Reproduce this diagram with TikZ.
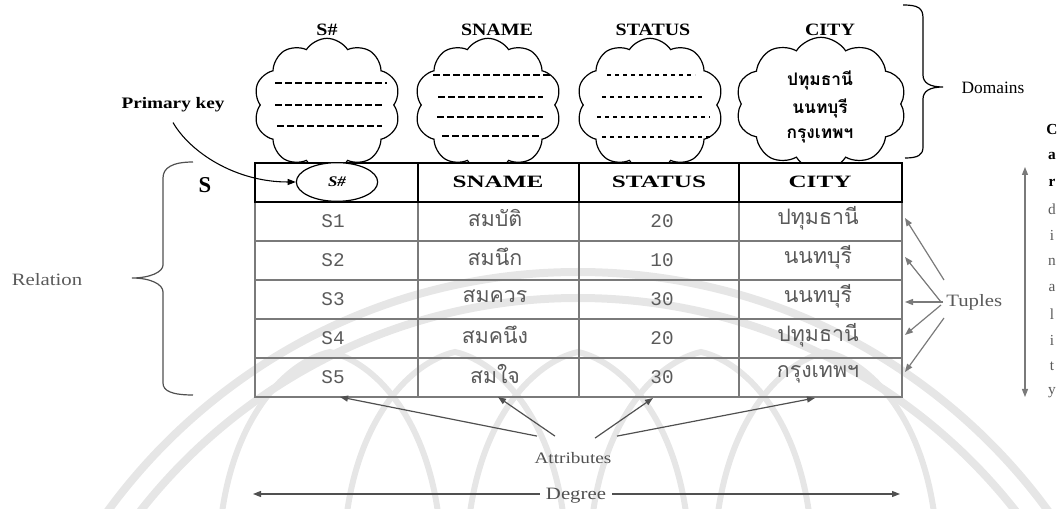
\documentclass[tikz,border=0pt]{standalone}
\usepackage{fontspec}
\setmainfont{Liberation Serif}
\newfontfamily\widefont[FakeStretch=1.2]{Liberation Serif}
\newfontfamily\hdrfont[FakeStretch=1.45]{Liberation Serif}
\newfontfamily\topfont[FakeStretch=1.15]{Liberation Serif}
\newfontfamily\cellmono{Liberation Mono}
\newfontfamily\thaifont[Script=Thai]{Loma}
\usetikzlibrary{shapes.symbols,shapes.geometric,arrows.meta,calc}

\definecolor{inkgray}{HTML}{505050}
\definecolor{softgray}{HTML}{5A5A5A}
\definecolor{linegray}{HTML}{7A7A7A}
\definecolor{markgray}{HTML}{E6E6E6}

\tikzset{
  cloudbox/.style={cloud, draw, line width=0.9pt, cloud puffs=10, cloud puff arc=115,
    cloud ignores aspect, inner sep=0pt, minimum width=110pt, minimum height=100pt},
  dashrule/.style={line width=0.9pt, dash pattern=on 5pt off 2.5pt},
  sparse/.style={line width=0.8pt, dash pattern=on 3pt off 3pt},
  toplabel/.style={font=\topfont\bfseries\fontsize{13}{15}\selectfont, inner sep=0pt},
  hdrtext/.style={font=\hdrfont\bfseries\fontsize{13}{15}\selectfont, inner sep=0pt},
  celltext/.style={font=\cellmono\fontsize{14.5}{16}\selectfont, text=softgray, inner sep=0pt},
  thaicell/.style={font=\thaifont\fontsize{16}{18}\selectfont, text=softgray, inner sep=0pt},
  thaicloud/.style={font=\thaifont\bfseries\fontsize{13}{15}\selectfont, inner sep=0pt},
  note/.style={font=\widefont\fontsize{13}{15}\selectfont, inner sep=0pt},
  hdrline/.style={line width=1.1pt, black},
  bodyline/.style={line width=0.8pt, linegray},
  tip/.style={-{Triangle[length=6pt,width=4.5pt]}},
  brace/.style={line width=0.9pt},
  emblem/.style={markgray, line width=6pt}
}

\begin{document}
\begin{tikzpicture}[x=0.75pt,y=-0.75pt]
\useasboundingbox (0,0) rectangle (1061,509);

% ---- faint emblem in the background
\begin{scope}
  \clip (0,215) rectangle (1061,509);
  \draw[emblem] (578,854) circle[radius=582];
  \draw[emblem] (578,854) circle[radius=556];
  \foreach \px in {330,455,578,701,826}
    \draw[emblem, line width=4.5pt] (\px-110,530) .. controls (\px-100,420) and (\px-45,362) .. (\px,352)
      .. controls (\px+45,362) and (\px+100,420) .. (\px+110,530);
\end{scope}

% ---- domain clouds and their titles
\node[toplabel] (tS)  at (327,30) {S\#};
\node[toplabel] (tN)  at (497,30) {SNAME};
\node[toplabel] (tT)  at (653,30) {STATUS};
\node[toplabel] (tC)  at (830,30) {CITY};

\node[cloudbox] (cS) at (327,105) {};
\node[cloudbox] (cN) at (488,105) {};
\node[cloudbox] (cT) at (650,105) {};
\node[cloudbox, minimum width=128pt, minimum height=100pt] (cC) at (821,104) {};

\draw[dashrule] (275,83) -- (387,83);
\draw[dashrule] (275,105) -- (382,105);
\draw[dashrule] (277,126) -- (382,126);

\draw[dashrule] (433,75) -- (550,75);
\draw[dashrule] (438,97) -- (543,97);
\draw[dashrule] (437,117) -- (543,117);
\draw[dashrule] (442,136) -- (540,136);

\draw[sparse] (607,75) -- (695,75);
\draw[sparse] (602,97) -- (703,97);
\draw[sparse] (597,117) -- (710,117);
\draw[sparse] (602,137) -- (710,137);

\node[thaicloud] (d1) at (820,80) {ปทุมธานี};
\node[thaicloud] (d2) at (820,108) {นนทบุรี};
\node[thaicloud] (d3) at (820,136) {กรุงเทพฯ};

% ---- Domains brace
\draw[brace] (903,5) .. controls (918,5) and (923,8) .. (923,18) -- (923,75)
  .. controls (923,83) and (930,87) .. (943,87)
  .. controls (930,87) and (923,91) .. (923,99) -- (923,147)
  .. controls (923,155) and (918,158) .. (905,158);
\node[font=\fontsize{13}{15}\selectfont, inner sep=0pt] (dom) at (993,88) {Domains};

% ---- the relation table
\draw[bodyline] (255,202) rectangle (902,397);
\foreach \yy in {241,280,319,358} \draw[bodyline] (255,\yy) -- (902,\yy);
\foreach \xx in {418,579,739} \draw[bodyline] (\xx,202) -- (\xx,397);
\draw[hdrline, fill=white] (255,163) rectangle (902,202);
\foreach \xx in {418,579,739} \draw[hdrline] (\xx,163) -- (\xx,202);

\node[draw, ellipse, line width=0.9pt, minimum width=61pt, minimum height=29pt, inner sep=0pt,
  fill=white, font=\topfont\bfseries\itshape\fontsize{11}{13}\selectfont] (key) at (337,182) {S\#};
\node[hdrtext] (hN) at (498,182) {SNAME};
\node[hdrtext] (hT) at (659,182) {STATUS};
\node[hdrtext] (hC) at (820,182) {CITY};

\node[celltext] (a1) at (333,221) {S1};
\node[celltext] (a2) at (333,260) {S2};
\node[celltext] (a3) at (333,299) {S3};
\node[celltext] (a4) at (333,338) {S4};
\node[celltext] (a5) at (333,377) {S5};

\node[thaicell] (b1) at (495,218) {สมบัติ};
\node[thaicell] (b2) at (495,257) {สมนึก};
\node[thaicell] (b3) at (495,296) {สมควร};
\node[thaicell] (b4) at (495,335) {สมคนึง};
\node[thaicell] (b5) at (495,374) {สมใจ};

\node[celltext] (s1) at (662,221) {20};
\node[celltext] (s2) at (662,260) {10};
\node[celltext] (s3) at (662,299) {30};
\node[celltext] (s4) at (662,338) {20};
\node[celltext] (s5) at (662,377) {30};

\node[thaicell] (c1) at (818,218) {ปทุมธานี};
\node[thaicell] (c2) at (818,257) {นนทบุรี};
\node[thaicell] (c3) at (818,296) {นนทบุรี};
\node[thaicell] (c4) at (818,335) {ปทุมธานี};
\node[thaicell] (c5) at (818,374) {กรุงเทพฯ};

\node[font=\bfseries\fontsize{17}{19}\selectfont, inner sep=0pt] (rel) at (205,185) {S};

% ---- primary key pointer
\node[note, font=\widefont\bfseries\fontsize{12}{14}\selectfont] (pk) at (173,105) {Primary key};
\draw[line width=0.8pt, tip] ($(pk.south)+(0,10)$) .. controls (190,152) and (235,182) .. (key.west);

% ---- Relation brace
\draw[brace, inkgray] (193,162) .. controls (172,162) and (163,168) .. (163,178) -- (163,265)
  .. controls (163,272) and (150,278) .. (132,278)
  .. controls (150,278) and (163,284) .. (163,292) -- (163,383)
  .. controls (163,391) and (172,395) .. (193,395);
\node[note, text=softgray] (relname) at (47,280) {Relation};

% ---- Tuples
\node[note, text=softgray, anchor=west] (tup) at (946,302) {Tuples};
\coordinate (r1) at (905,218);
\coordinate (r2) at (905,257);
\coordinate (r3) at (905,302);
\coordinate (r4) at (905,335);
\coordinate (r5) at (905,372);
\draw[line width=0.9pt, linegray, tip] ($(tup.west)+(-2,-22)$) -- (r1);
\draw[line width=0.9pt, linegray, tip] ($(tup.west)+(-5,0)$) -- (r2);
\draw[line width=0.9pt, linegray, tip] ($(tup.west)+(-3,0)$) -- (r3);
\draw[line width=0.9pt, linegray, tip] ($(tup.west)+(-5,3)$) -- (r4);
\draw[line width=0.9pt, linegray, tip] ($(tup.west)+(-2,16)$) -- (r5);

% ---- Attributes
\node[note, text=inkgray, font=\widefont\fontsize{12}{14}\selectfont] (att) at (573,458) {Attributes};
\coordinate (k1) at (340,397);
\coordinate (k2) at (498,397);
\coordinate (k3) at (653,398);
\coordinate (k4) at (815,398);
\draw[line width=0.9pt, inkgray, tip] ($(att.north)+(-36,-16)$) -- (k1);
\draw[line width=0.9pt, inkgray, tip] ($(att.north)+(-18,-16)$) -- (k2);
\draw[line width=0.9pt, inkgray, tip] ($(att.north)+(22,-14)$) -- (k3);
\draw[line width=0.9pt, inkgray, tip] ($(att.north)+(44,-16)$) -- (k4);

% ---- Degree
\node[note, text=inkgray] (deg) at (576,496) {Degree};
\coordinate (dl) at (253,494);
\coordinate (dr) at (900,494);
\draw[line width=0.9pt, inkgray, tip] ($(deg.west)+(-6,-2)$) -- (dl);
\draw[line width=0.9pt, inkgray, tip] ($(deg.east)+(6,-2)$) -- (dr);

% ---- Cardinality
\coordinate (ct) at (1025,167);
\coordinate (cb) at (1025,397);
\draw[line width=0.9pt, linegray, {Triangle[length=6pt,width=4.5pt]}-{Triangle[length=6pt,width=4.5pt]}] (ct) -- (cb);
\foreach \ch [count=\k from 0] in {C,a,r}
  \node[font=\bfseries\fontsize{11.5}{13}\selectfont, inner sep=0pt] (cd\k) at (1052,{130+26.3*\k}) {\ch};
\foreach \ch [count=\k from 3] in {d,i,n,a,l,i,t,y}
  \node[font=\fontsize{11.5}{13}\selectfont, text=softgray, inner sep=0pt] (cd\k) at (1052,{130+26.3*\k}) {\ch};
\end{tikzpicture}
\end{document}
